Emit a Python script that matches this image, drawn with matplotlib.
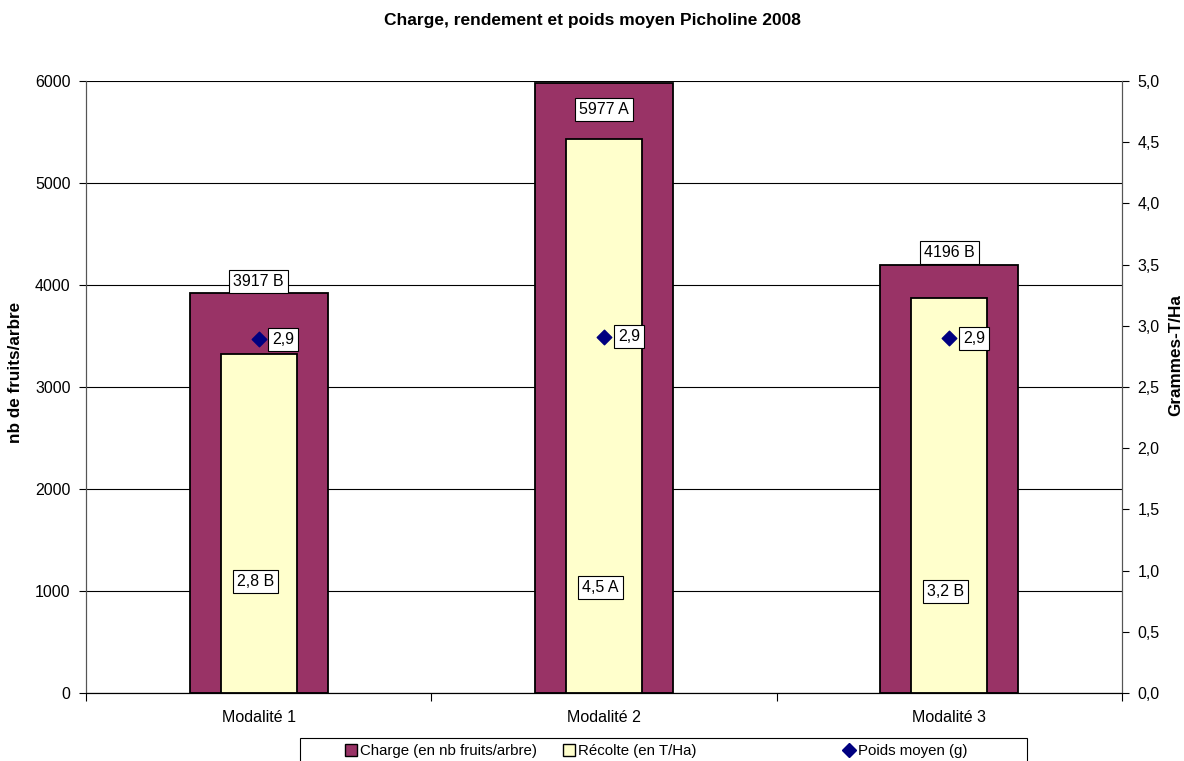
import matplotlib
matplotlib.use("Agg")
import matplotlib.pyplot as plt
from matplotlib.lines import Line2D
from matplotlib.patches import Rectangle
import numpy as np

plt.rcParams['font.family'] = ['Liberation Sans', 'DejaVu Sans']

# data
categories = ["Modalité 1", "Modalité 2", "Modalité 3"]
charge = [3917, 5977, 4196]            # nb fruits/arbre (left axis)
charge_letters = ["B", "A", "B"]
recolte = [2.77, 4.53, 3.23]           # T/Ha (right axis)
recolte_labels = ["2,8 B", "4,5 A", "3,2 B"]
poids = [2.89, 2.91, 2.90]             # g (right axis)
poids_labels = ["2,9", "2,9", "2,9"]
legend_labels = ["Charge (en nb fruits/arbre)", "Récolte (en T/Ha)", "Poids moyen (g)"]

maroon = '#993366'
yellow = '#FFFFCC'
navy = '#000080'

W, H = 1184, 761
fig = plt.figure(figsize=(W / 100, H / 100), dpi=100)
ax = fig.add_axes([86/W, 1-693/H, (1122-86)/W, (693-81)/H])
ax2 = ax.twinx()

x = np.arange(len(categories))

ax.bar(x, charge, width=0.4, color=maroon, edgecolor='black', linewidth=1.3, zorder=2)
ax2.bar(x, recolte, width=0.22, color=yellow, edgecolor='black', linewidth=1.3, zorder=2)
ax2.scatter(x, poids, marker='D', s=55, color=navy, zorder=4)

box = dict(boxstyle='square,pad=0.25', fc='white', ec='black', lw=0.8)

# charge labels: above the bar, or inside if no room
for i, (v, l) in enumerate(zip(charge, charge_letters)):
    txt = f"{v} {l}"
    if v > 5500:
        ax.text(x[i], v - 260, txt, ha='center', va='center', fontsize=11.5, bbox=box, zorder=5)
    else:
        ax.text(x[i], v + 120, txt, ha='center', va='center', fontsize=11.5, bbox=box, zorder=5)

# récolte labels, low inside the yellow bars
rec_label_y = [0.91, 0.86, 0.83]
for i, t in enumerate(recolte_labels):
    ax2.text(x[i] - 0.01, rec_label_y[i], t, ha='center', va='center', fontsize=11.5, bbox=box, zorder=5)

for i, t in enumerate(poids_labels):
    ax2.text(x[i] + 0.04, poids[i], t, ha='left', va='center', fontsize=11.5, bbox=box, zorder=5)

# axes styling
ax.set_xlim(-0.5, 2.5)
ax.set_ylim(0, 6000)
ax2.set_ylim(0, 5.0)
ax.set_yticks(np.arange(0, 6001, 1000))
ax2.set_yticks(np.arange(0, 5.01, 0.5))
ax2.set_yticklabels([f"{v:.1f}".replace('.', ',') for v in np.arange(0, 5.01, 0.5)])

ax.set_xticks(x)
ax.set_xticklabels(categories)
ax.set_xticks([-0.5, 0.5, 1.5, 2.5], minor=True)
ax.tick_params(axis='x', which='major', length=0, pad=12, labelsize=11.5)
ax.tick_params(axis='x', which='minor', length=6, width=0.8)
ax.tick_params(axis='y', length=5, width=0.8, labelsize=11.5, pad=6)
ax2.tick_params(axis='y', length=5, width=0.8, labelsize=11.5, pad=6)

ax.grid(axis='y', color='black', linewidth=0.8, zorder=0)
ax.set_axisbelow(True)
for a in (ax, ax2):
    a.spines['top'].set_visible(False)
    a.spines['left'].set_color('#555555')
    a.spines['right'].set_color('#555555')
    a.spines['bottom'].set_color('black')

# axis titles
fig.text(16/W, 1-372/H, "nb de fruits/arbre", rotation=90, ha='center', va='center',
         fontsize=12.3, fontweight='bold')
fig.text(1176/W, 1-355/H, "Grammes-T/Ha", rotation=90, ha='center', va='center',
         fontsize=12.3, fontweight='bold')

fig.suptitle("Charge, rendement et poids moyen Picholine 2008", fontsize=12.5,
             fontweight='bold', y=1-20/H, va='center')

# legend: framed box at the bottom, entries laid out like the original
fig.add_artist(Rectangle((300/W, -0.01), (1027-300)/W, (1 - 738/H) + 0.01,
                         transform=fig.transFigure, fc='white', ec='black', lw=0.8))
handles = [
    Line2D([], [], marker='s', color='none', markerfacecolor=maroon, markeredgecolor='black', markersize=8),
    Line2D([], [], marker='s', color='none', markerfacecolor=yellow, markeredgecolor='black', markersize=8),
    Line2D([], [], marker='D', color='none', markerfacecolor=navy, markeredgecolor=navy, markersize=7),
]
entry_x = [343, 561, 841]
for h, lab, ex in zip(handles, legend_labels, entry_x):
    fig.legend([h], [lab], loc='center left', bbox_to_anchor=(ex/W, 1-751/H),
               fontsize=10.8, frameon=False, handletextpad=0.15, handlelength=1.0,
               borderpad=0, borderaxespad=0)

fig.savefig("out.png", dpi=100)
